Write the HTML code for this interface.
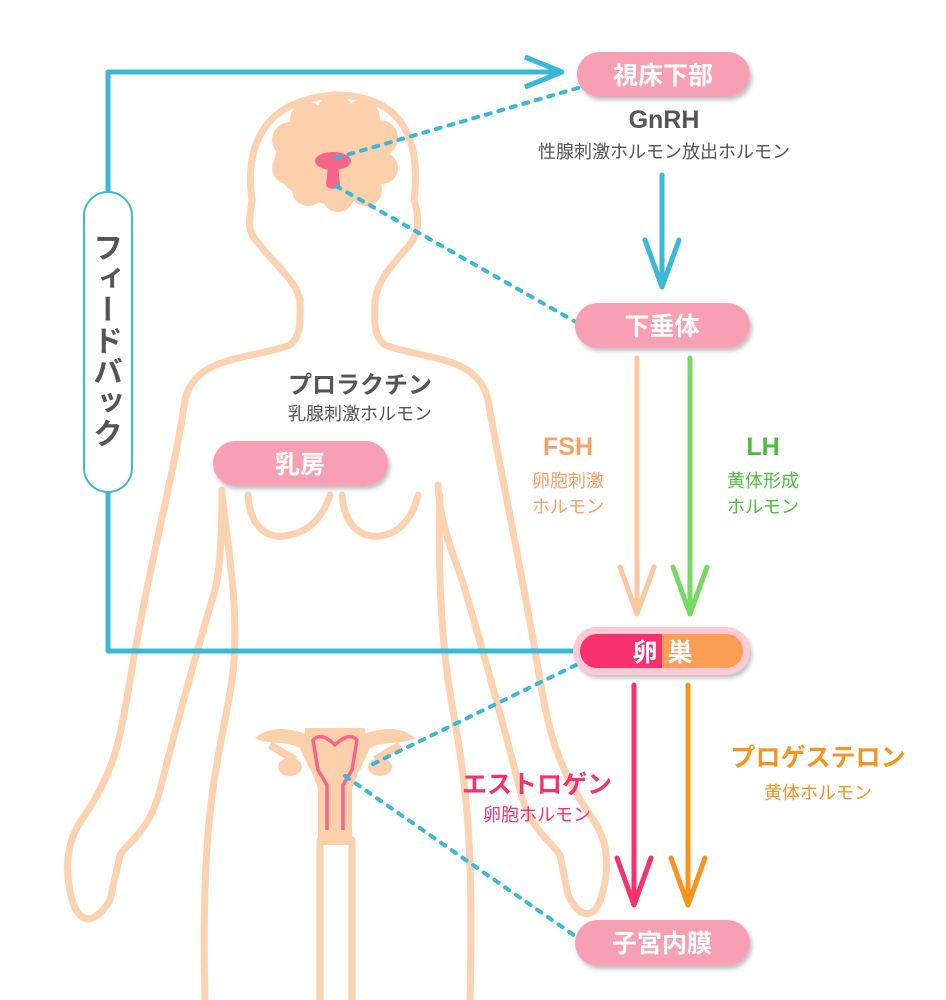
<!DOCTYPE html>
<html><head><meta charset="utf-8"><style>
html,body{margin:0;padding:0;background:#fff}
svg{display:block}
text{font-family:"Liberation Sans","Noto Sans CJK JP",sans-serif;font-weight:bold}
.s{font-weight:normal}
#fb{position:absolute;left:84px;top:232px;width:48px;height:240px;writing-mode:vertical-rl;font-family:"Noto Sans CJK JP",sans-serif;font-weight:bold;font-size:30px;color:#555;line-height:48px;letter-spacing:1px;text-align:left}
</style></head><body>
<svg width="946" height="1000" viewBox="0 0 946 1000" xmlns="http://www.w3.org/2000/svg">
<defs>
<filter id="sh" x="-10%" y="-20%" width="120%" height="160%"><feDropShadow dx="2" dy="3" stdDeviation="2" flood-color="#000" flood-opacity="0.25"/></filter>
</defs>
<g fill="none" stroke="#fdd2b0" stroke-width="7" stroke-linecap="round" stroke-linejoin="round">
<path d="M300,300 C296,280 272,262 260,245 C245,230 250,220 252,200 C245,150 260,100 335,95 C410,95 420,150 414,200 C420,220 420,235 405,250 C392,265 378,280 375,300"/>
<path d="M300,300 C300,320 302,335 290,345 C250,360 195,355 185,400 C175,470 150,560 130,680 C120,740 115,770 85,815 C70,835 62,860 72,900 C80,925 95,925 110,900 L120,855 C130,840 150,830 160,790 C175,730 200,640 215,590 C220,570 222,530 222,490"/>
<path d="M375,300 C375,320 372,335 385,345 C425,360 478,355 488,400 C500,470 520,560 540,680 C550,740 560,770 590,815 C605,835 612,860 602,895 C595,920 580,920 568,895 L560,855 C550,840 530,830 520,790 C505,730 480,640 465,590 C460,570 440,530 438,485"/>
<path d="M222,495 C230,560 240,620 232,680 C220,760 200,800 205,1000"/>
<path d="M440,495 C438,560 440,620 448,680 C460,760 475,800 470,1000"/>
<path d="M320,840 L320,1000 M352,840 L352,1000"/>
<path d="M248,495 C250,530 270,540 290,535 C315,530 325,510 330,495"/>
<path d="M342,495 C345,530 365,540 385,535 C405,530 415,510 418,495"/>
</g>
<g fill="#fdd0ac">
<ellipse cx="333" cy="160" rx="58" ry="44"/>
<circle cx="290" cy="140" r="18"/><circle cx="308" cy="120" r="18"/><circle cx="335" cy="112" r="18"/><circle cx="362" cy="118" r="18"/><circle cx="380" cy="138" r="18"/><circle cx="382" cy="168" r="16"/><circle cx="366" cy="190" r="16"/><circle cx="338" cy="196" r="16"/><circle cx="308" cy="190" r="16"/><circle cx="288" cy="168" r="16"/>
</g>
<ellipse cx="333" cy="161" rx="18" ry="9" fill="#f7668a"/>
<path d="M328,165 L338,165 L340,185 C338,190 328,190 326,185 Z" fill="#f7668a"/>
<g fill="#fdd0ac">
<path d="M310,735 C290,728 270,725 255,738 C265,745 285,740 300,748 L310,770 Z"/>
<path d="M360,735 C380,728 400,725 415,738 C405,745 385,740 370,748 L360,770 Z"/>
<path d="M305,728 L365,728 C368,760 355,775 352,790 L352,845 L318,845 L318,790 C315,775 302,760 305,728 Z"/>
<ellipse cx="290" cy="767" rx="12" ry="9"/><ellipse cx="380" cy="767" rx="12" ry="9"/>
<path d="M270,745 L295,760 M400,745 L375,760" stroke="#fdd0ac" stroke-width="8"/>
</g>
<path d="M327,830 L327,785 L318,770 L313,740 C318,735 325,735 335,745 C345,735 352,735 357,740 L352,770 L343,785 L343,830" fill="none" stroke="#f7668a" stroke-width="3.5" stroke-linejoin="round"/>
<g stroke="#3bb8d8" stroke-width="4" stroke-dasharray="5,8" stroke-linecap="round" fill="none">
<path d="M336,158 L578,88"/><path d="M336,186 L576,322"/>
<path d="M373,764 L580,663"/><path d="M345,776 L578,938"/>
</g>
<g stroke="#3bb8d8" stroke-width="5" fill="none" stroke-linejoin="round">
<path d="M108,200 L108,72 L560,72"/><path d="M525,57 L562,72 L525,87"/>
<path d="M108,480 L108,651 L580,651"/>
</g>
<rect x="84" y="192" width="48" height="300" rx="24" fill="#fff" stroke="#3bb8d8" stroke-width="2"/>
<g fill="none" stroke-width="5" stroke-linecap="round" stroke-linejoin="round">
<path d="M662,175 L662,285 M645,240 L662,287 L679,240" stroke="#3bb8d8"/>
<path d="M637,358 L637,612 M620,567 L637,614 L654,567" stroke="#fdc7a0"/>
<path d="M690,358 L690,612 M673,567 L690,614 L707,567" stroke="#77d964"/>
<path d="M634,685 L634,905 M617,858 L634,905 L651,858" stroke="#f7306e"/>
<path d="M688,685 L688,905 M671,858 L688,905 L705,858" stroke="#f7941d"/>
</g>
<g filter="url(#sh)">
<rect x="577" y="52" width="173" height="45" rx="22.5" fill="#f7a0b4"/>
<rect x="575" y="303" width="175" height="45" rx="22.5" fill="#f7a0b4"/>
<rect x="213" y="441" width="175" height="45" rx="22.5" fill="#f7a0b4"/>
<rect x="575" y="920" width="175" height="46" rx="23" fill="#f7a0b4"/>
<rect x="573" y="627" width="177" height="48" rx="24" fill="#fcc9d4"/>
</g>
<rect x="580" y="634" width="163" height="34" rx="17" fill="#fd9e55"/>
<path d="M597,634 L662,634 L662,668 L597,668 A17,17 0 0 1 597,634 Z" fill="#f7306e"/>
<g fill="#fff" font-size="25" text-anchor="middle">
<text x="663" y="84">視床下部</text>
<text x="662" y="335">下垂体</text>
<text x="300" y="473">乳房</text>
<text x="662" y="952">子宮内膜</text>
<text x="645" y="661">卵</text><text x="680" y="661">巣</text>
</g>
<g text-anchor="middle">
<text x="664" y="128" font-size="25" fill="#555">GnRH</text>
<text x="664" y="158" font-size="18" fill="#555" class="s">性腺刺激ホルモン放出ホルモン</text>
<text x="360" y="393" font-size="24" fill="#555">プロラクチン</text>
<text x="360" y="420" font-size="18" fill="#555" class="s">乳腺刺激ホルモン</text>
<text x="568" y="455" font-size="25" fill="#f9a065">FSH</text>
<text x="568" y="487" font-size="18" fill="#f9a065" class="s">卵胞刺激</text>
<text x="568" y="513" font-size="18" fill="#f9a065" class="s">ホルモン</text>
<text x="763" y="455" font-size="25" fill="#4bbf3a">LH</text>
<text x="763" y="487" font-size="18" fill="#4bbf3a" class="s">黄体形成</text>
<text x="763" y="513" font-size="18" fill="#4bbf3a" class="s">ホルモン</text>
<text x="537" y="793" font-size="25" fill="#f7306e">エストロゲン</text>
<text x="537" y="821" font-size="18" fill="#f7306e" class="s">卵胞ホルモン</text>
<text x="818" y="766" font-size="25" fill="#f7941d">プロゲステロン</text>
<text x="818" y="799" font-size="18" fill="#f7941d" class="s">黄体ホルモン</text>
</g>
</svg>
<div id="fb">フィードバック</div>
</body></html>
